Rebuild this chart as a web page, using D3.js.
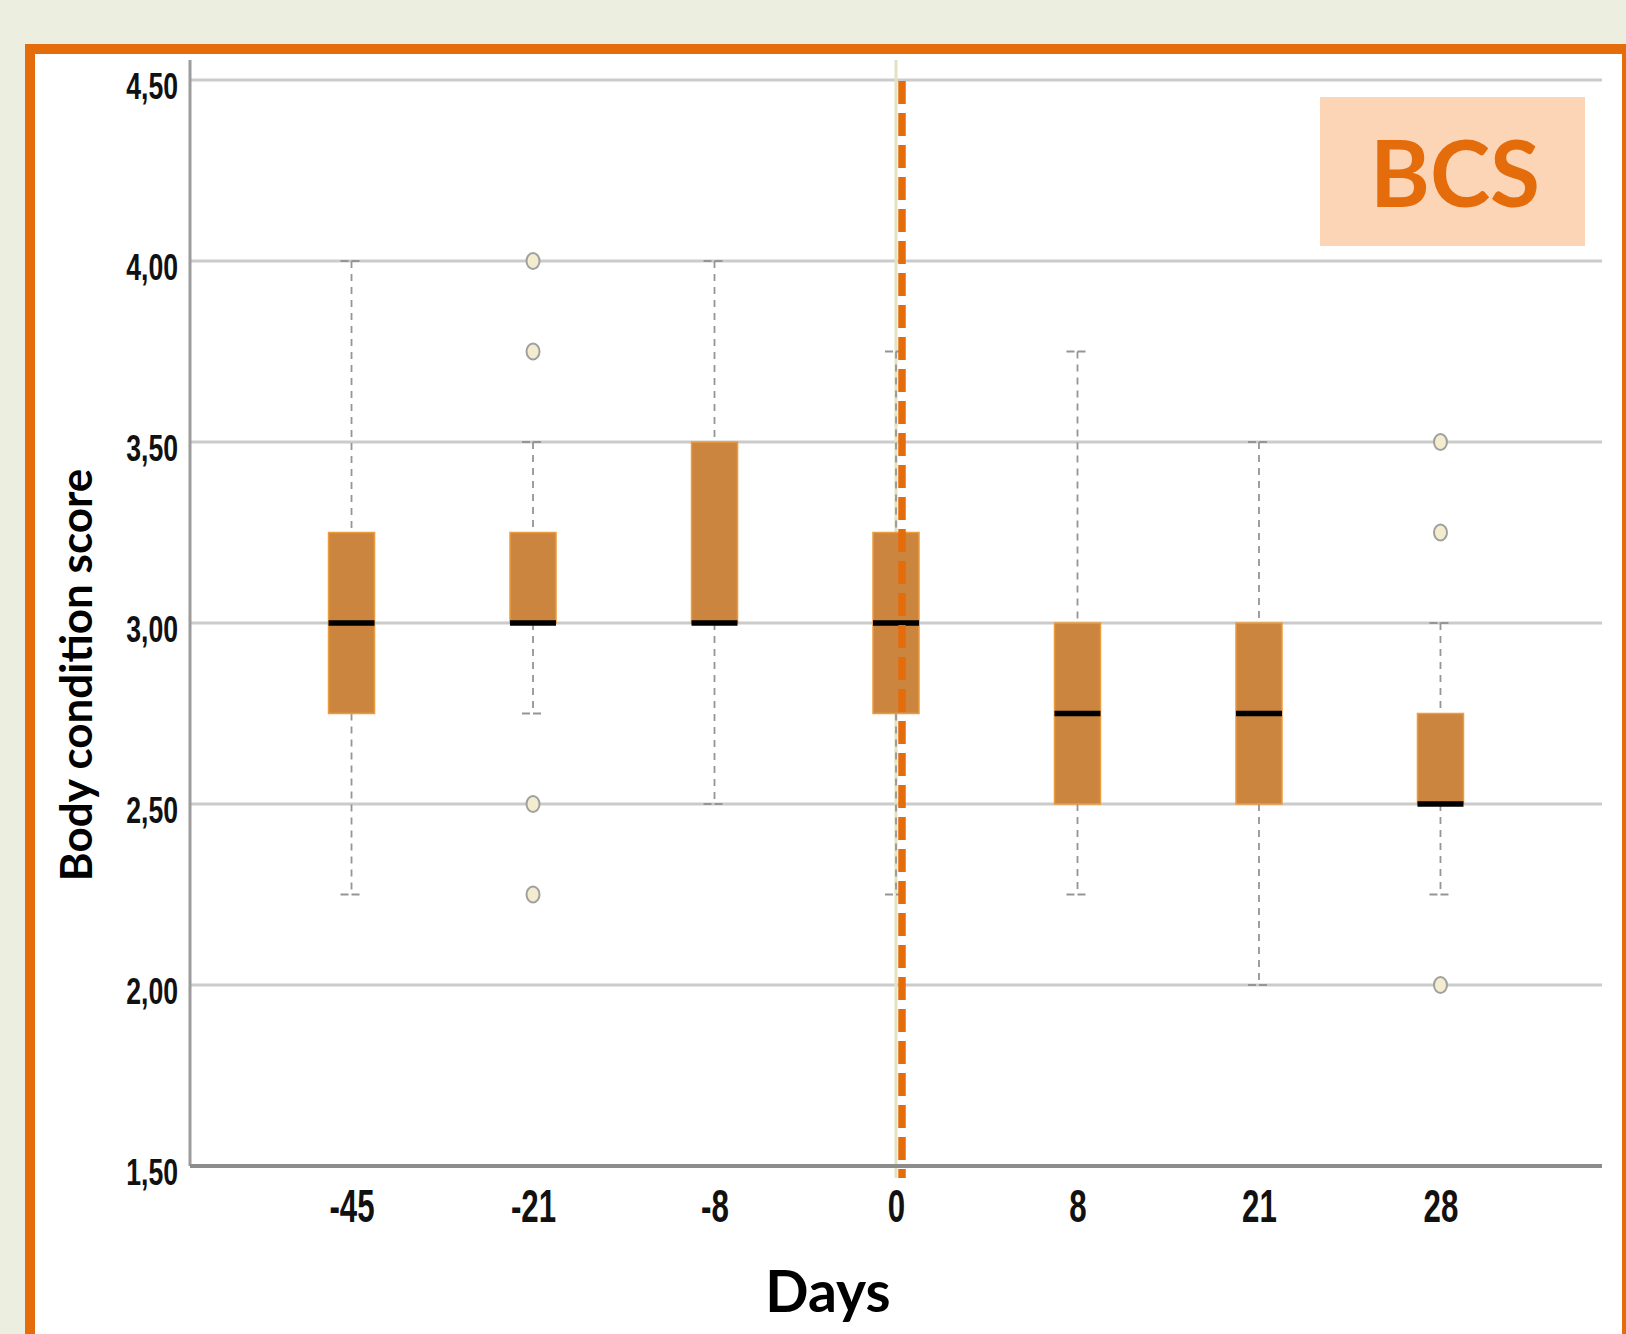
<!DOCTYPE html>
<html>
<head>
<meta charset="utf-8">
<script src="https://cdn.jsdelivr.net/npm/d3@7"></script>
<style>
  body { margin: 0; background: #eceedf; }
  svg { display: block; }
  .tick-label { font-family: "Liberation Sans Narrow", "Arial Narrow", "Liberation Sans", sans-serif; font-weight: bold; fill: #111; }
  .title { font-family: Lato, "Open Sans", sans-serif; font-weight: bold; fill: #000; }
</style>
</head>
<body>
<svg id="chart" width="1626" height="1334"></svg>
<script>
// Body condition score per sampling day (box plot summaries)
var days = ["-45", "-21", "-8", "0", "8", "21", "28"];
var whiskerLow  = [2.25, 2.75, 2.50, 2.25, 2.25, 2.00, 2.25];
var q1          = [2.75, 3.00, 3.00, 2.75, 2.50, 2.50, 2.50];
var medians     = [3.00, 3.00, 3.00, 3.00, 2.75, 2.75, 2.50];
var q3          = [3.25, 3.25, 3.50, 3.25, 3.00, 3.00, 2.75];
var whiskerHigh = [4.00, 3.50, 4.00, 3.75, 3.75, 3.50, 3.00];
var outlierDays   = ["-21", "-21", "-21", "-21", "28", "28", "28"];
var outlierValues = [4.00, 3.75, 2.50, 2.25, 3.50, 3.25, 2.00];
var yTicks = [1.5, 2.0, 2.5, 3.0, 3.5, 4.0, 4.5];

(function() {
  var svg = d3.select("#chart");

  // orange frame with white panel
  svg.append("rect")
    .attr("x", 25).attr("y", 44)
    .attr("width", 1626 - 25).attr("height", 1334 - 44)
    .attr("fill", "#e46c0b");
  svg.append("rect")
    .attr("x", 35).attr("y", 54)
    .attr("width", 1622 - 35).attr("height", 1334 - 54)
    .attr("fill", "#ffffff");

  var pLeft = 190, pRight = 1602, pTop = 80, pBottom = 1166;

  var x = d3.scalePoint()
    .domain(days)
    .range([pLeft, pRight])
    .padding(0.89);

  var y = d3.scaleLinear()
    .domain([1.5, 4.5])
    .range([pBottom, pTop]);

  var fmt = function(v) { return d3.format(".2f")(v).replace(".", ","); };

  // horizontal grid lines
  svg.append("g")
    .selectAll("line")
    .data(yTicks.slice(1))
    .enter().append("line")
      .attr("x1", pLeft).attr("x2", pRight)
      .attr("y1", function(d) { return y(d); })
      .attr("y2", function(d) { return y(d); })
      .attr("stroke", "#cbcbcb")
      .attr("stroke-width", 3);

  // y axis (labels squeezed to mimic a narrow face)
  var ySq = 0.72;
  var yAxis = svg.append("g")
    .attr("transform", "translate(" + pLeft + ",0)")
    .call(d3.axisLeft(y).tickValues(yTicks).tickFormat(fmt).tickSize(0));
  yAxis.select(".domain").remove();
  yAxis.selectAll("text")
    .attr("class", "tick-label")
    .attr("font-size", 37)
    .attr("x", -12 / ySq)
    .attr("dy", "0.5em")
    .attr("transform", "scale(" + ySq + ",1)");
  svg.append("line")
    .attr("x1", pLeft).attr("x2", pLeft)
    .attr("y1", 60).attr("y2", pBottom)
    .attr("stroke", "#9c9c9c")
    .attr("stroke-width", 3);

  // faint original reference line at day 0
  svg.append("line")
    .attr("x1", x("0")).attr("x2", x("0"))
    .attr("y1", 60).attr("y2", pBottom + 12)
    .attr("stroke", "#e4e2c2")
    .attr("stroke-width", 3);

  var boxW = 46, capW = 22;

  // whiskers
  var whisk = svg.append("g")
    .attr("stroke", "#959595")
    .attr("stroke-width", 1.8)
    .attr("stroke-dasharray", "7,6");

  whisk.selectAll(".wu")
    .data(days)
    .enter().append("line")
      .attr("x1", function(d) { return x(d); })
      .attr("x2", function(d) { return x(d); })
      .attr("y1", function(d, i) { return y(whiskerHigh[i]); })
      .attr("y2", function(d, i) { return y(q3[i]); });

  whisk.selectAll(".wl")
    .data(days)
    .enter().append("line")
      .attr("x1", function(d) { return x(d); })
      .attr("x2", function(d) { return x(d); })
      .attr("y1", function(d, i) { return y(q1[i]); })
      .attr("y2", function(d, i) { return y(whiskerLow[i]); });

  var caps = [];
  days.forEach(function(d, i) {
    caps.push([d, whiskerHigh[i]]);
    caps.push([d, whiskerLow[i]]);
  });
  whisk.selectAll(".cap")
    .data(caps)
    .enter().append("line")
      .attr("stroke-dasharray", "8,3")
      .attr("x1", function(d) { return x(d[0]) - capW / 2; })
      .attr("x2", function(d) { return x(d[0]) + capW / 2; })
      .attr("y1", function(d) { return y(d[1]); })
      .attr("y2", function(d) { return y(d[1]); });

  // boxes
  svg.append("g")
    .selectAll("rect")
    .data(days)
    .enter().append("rect")
      .attr("x", function(d) { return x(d) - boxW / 2; })
      .attr("y", function(d, i) { return y(q3[i]); })
      .attr("width", boxW)
      .attr("height", function(d, i) { return y(q1[i]) - y(q3[i]); })
      .attr("fill", "#cc853f")
      .attr("stroke", "#eb9c3c")
      .attr("stroke-width", 1.5);

  // medians
  svg.append("g")
    .selectAll("line")
    .data(days)
    .enter().append("line")
      .attr("x1", function(d) { return x(d) - boxW / 2; })
      .attr("x2", function(d) { return x(d) + boxW / 2; })
      .attr("y1", function(d, i) { return y(medians[i]); })
      .attr("y2", function(d, i) { return y(medians[i]); })
      .attr("stroke", "#000")
      .attr("stroke-width", 5.5);

  // outliers
  svg.append("g")
    .selectAll("ellipse")
    .data(outlierValues)
    .enter().append("ellipse")
      .attr("cx", function(d, i) { return x(outlierDays[i]); })
      .attr("cy", function(d) { return y(d); })
      .attr("rx", 6.5)
      .attr("ry", 8)
      .attr("fill", "#f3ecce")
      .attr("stroke", "#a0a0a0")
      .attr("stroke-width", 2);

  // x axis
  var xAxis = svg.append("g")
    .attr("transform", "translate(0," + pBottom + ")")
    .call(d3.axisBottom(x).tickSize(0).tickPadding(23));
  xAxis.select(".domain").remove();
  xAxis.selectAll("text")
    .attr("class", "tick-label")
    .attr("font-size", 46)
    .attr("transform", "scale(0.68,1)");
  svg.append("line")
    .attr("x1", pLeft).attr("x2", pRight)
    .attr("y1", pBottom).attr("y2", pBottom)
    .attr("stroke", "#8c8c8c")
    .attr("stroke-width", 4);

  // dashed orange line marking day 0
  svg.append("line")
    .attr("x1", x("0") + 6).attr("x2", x("0") + 6)
    .attr("y1", pTop + 1).attr("y2", pBottom + 12)
    .attr("stroke", "#e46c0b")
    .attr("stroke-width", 7.5)
    .attr("stroke-dasharray", "23,9");

  // axis titles
  svg.append("text")
    .attr("class", "title")
    .attr("x", 828).attr("y", 1312)
    .attr("text-anchor", "middle")
    .attr("font-size", 57)
    .text("Days");

  svg.append("text")
    .attr("class", "title")
    .attr("transform", "translate(92,675) rotate(-90)")
    .attr("text-anchor", "middle")
    .attr("font-size", 44)
    .text("Body condition score");

  // BCS label box
  svg.append("rect")
    .attr("x", 1320).attr("y", 97)
    .attr("width", 265).attr("height", 149)
    .attr("fill", "#fbd5b5");
  svg.append("text")
    .attr("x", 1455).attr("y", 207)
    .attr("text-anchor", "middle")
    .attr("font-family", "Lato, 'Open Sans', sans-serif")
    .attr("font-weight", "bold")
    .attr("font-size", 91)
    .attr("fill", "#e46c0b")
    .text("BCS");
})();
</script>
</body>
</html>
